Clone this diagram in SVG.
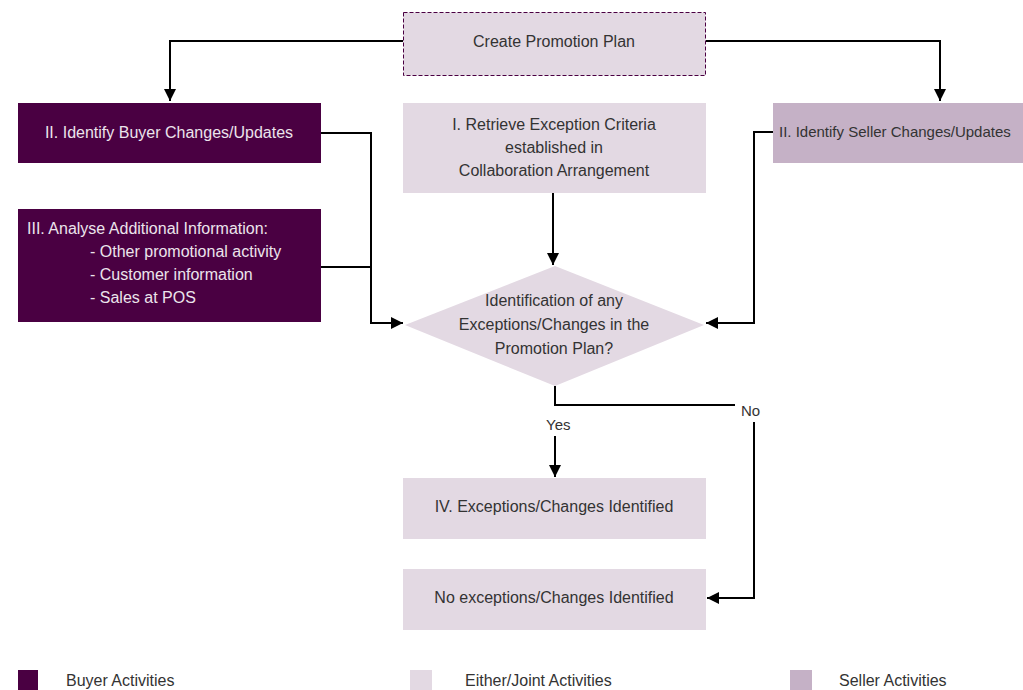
<svg xmlns="http://www.w3.org/2000/svg" width="1023" height="690" viewBox="0 0 1023 690">
  <style>
    .lbl { font-family: "Liberation Sans", Arial, sans-serif; font-size: 16px; fill: #333333; }
    .lbl-light { font-family: "Liberation Sans", Arial, sans-serif; font-size: 16px; fill: #ece4ec; }
    .small { font-size: 15px; }
    .leg { font-family: "Liberation Sans Narrow", "Liberation Sans", Arial, sans-serif; font-size: 16px; fill: #333333; }
    .joint { fill: #e3d9e3; }
    .buyer { fill: #4a0042; }
    .seller { fill: #c5b1c6; }
    .conn { fill: none; stroke: #000000; stroke-width: 2; }
  </style>
  <defs>
    <marker id="arrow" viewBox="0 0 10 10" refX="10" refY="5" markerWidth="12" markerHeight="12" markerUnits="userSpaceOnUse" orient="auto">
      <path d="M0,0 L10,5 L0,10 Z" fill="#000000"/>
    </marker>
  </defs>
  <rect width="1023" height="690" fill="#ffffff"/>

  <!-- connectors -->
  <g id="connectors">
    <path class="conn" d="M403,41 H170 V101" marker-end="url(#arrow)"/>
    <path class="conn" d="M706,41 H940 V101" marker-end="url(#arrow)"/>
    <path class="conn" d="M321,133 H371 V323 H403" marker-end="url(#arrow)"/>
    <path class="conn" d="M321,267 H371"/>
    <path class="conn" d="M553,193 V265" marker-end="url(#arrow)"/>
    <path class="conn" d="M773,132 H754 V323 H706" marker-end="url(#arrow)"/>
    <path class="conn" d="M555,386 V405 H735"/>
    <path class="conn" d="M555,436 V477" marker-end="url(#arrow)"/>
    <path class="conn" d="M754,422 V598 H707" marker-end="url(#arrow)"/>
    <text class="lbl small" x="546" y="430">Yes</text>
    <text class="lbl small" x="741" y="416">No</text>
  </g>

  <g id="create-plan">
    <rect class="joint" x="403.5" y="12.5" width="302" height="63" stroke="#4a0042" stroke-width="1" stroke-dasharray="4,2"/>
    <text class="lbl" x="554" y="47" text-anchor="middle">Create Promotion Plan</text>
  </g>

  <g id="buyer-changes">
    <rect class="buyer" x="18" y="103" width="303" height="60"/>
    <text class="lbl-light" x="169" y="138" text-anchor="middle">II. Identify Buyer Changes/Updates</text>
  </g>

  <g id="retrieve-criteria">
    <rect class="joint" x="403" y="103" width="303" height="90"/>
    <text class="lbl" x="554" y="130" text-anchor="middle">I. Retrieve Exception Criteria</text>
    <text class="lbl" x="554" y="153" text-anchor="middle">established in</text>
    <text class="lbl" x="554" y="176" text-anchor="middle">Collaboration Arrangement</text>
  </g>

  <g id="seller-changes">
    <rect class="seller" x="773" y="103" width="250" height="60"/>
    <text class="lbl small" x="779" y="137">II. Identify Seller Changes/Updates</text>
  </g>

  <g id="analyse-info">
    <rect class="buyer" x="18" y="209" width="303" height="113"/>
    <text class="lbl-light" x="27" y="234">III. Analyse Additional Information:</text>
    <text class="lbl-light" x="90" y="257">- Other promotional activity</text>
    <text class="lbl-light" x="90" y="280">- Customer information</text>
    <text class="lbl-light" x="90" y="303">- Sales at POS</text>
  </g>

  <g id="decision">
    <polygon class="joint" points="555,266 704,325 555,386 405,325"/>
    <text class="lbl" x="554" y="306" text-anchor="middle">Identification of any</text>
    <text class="lbl" x="554" y="330" text-anchor="middle">Exceptions/Changes in the</text>
    <text class="lbl" x="554" y="354" text-anchor="middle">Promotion Plan?</text>
  </g>

  <g id="changes-identified">
    <rect class="joint" x="403" y="478" width="303" height="61"/>
    <text class="lbl" x="554" y="512" text-anchor="middle">IV. Exceptions/Changes Identified</text>
  </g>

  <g id="no-changes">
    <rect class="joint" x="403" y="569" width="303" height="61"/>
    <text class="lbl" x="554" y="603" text-anchor="middle">No exceptions/Changes Identified</text>
  </g>

  <g id="legend">
    <rect class="buyer" x="18" y="670" width="20" height="20"/>
    <text class="leg" x="66" y="686">Buyer Activities</text>
    <rect class="joint" x="410" y="670" width="22" height="20"/>
    <text class="leg" x="465" y="686">Either/Joint Activities</text>
    <rect class="seller" x="790" y="670" width="22" height="20"/>
    <text class="leg" x="839" y="686">Seller Activities</text>
  </g>
</svg>
